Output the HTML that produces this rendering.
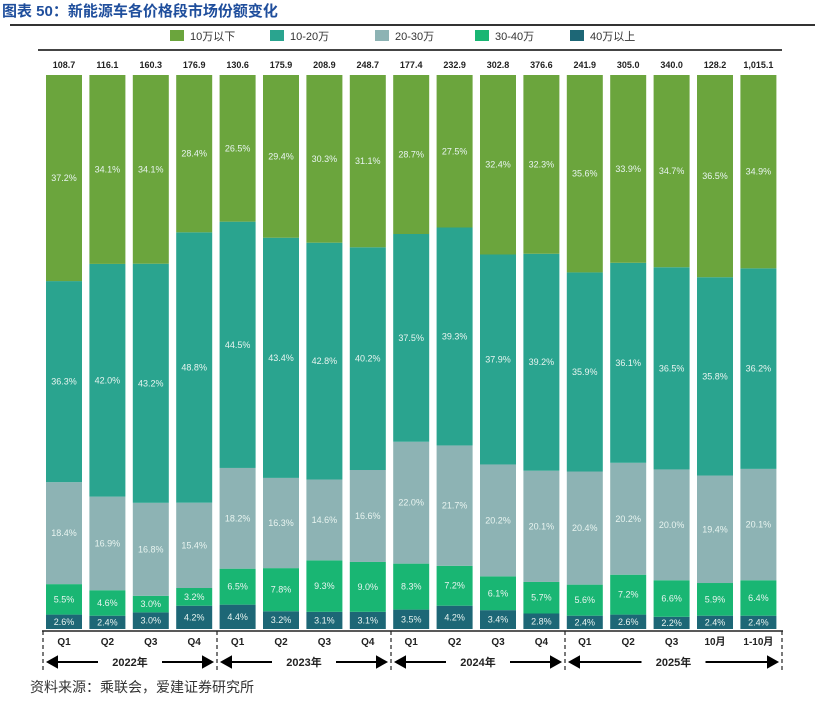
<!DOCTYPE html>
<html><head><meta charset="utf-8"><style>
body{margin:0;background:#fff;font-family:"Liberation Sans","Noto Sans CJK SC",sans-serif;}
</style></head><body>
<svg width="831" height="703" xmlns="http://www.w3.org/2000/svg" id="svg">
<text x="2" y="16" font-size="15" font-weight="bold" fill="#1f4e9c" font-family="Liberation Sans,Noto Sans CJK SC,sans-serif">图表 50：新能源车各价格段市场份额变化</text>
<line x1="10" y1="25" x2="815" y2="25" stroke="#333" stroke-width="2"/>
<line x1="38" y1="50" x2="782" y2="50" stroke="#444" stroke-width="2"/>
<text x="30" y="692" font-size="14" fill="#333" font-family="Liberation Sans,Noto Sans CJK SC,sans-serif">资料来源：乘联会，爱建证券研究所</text>
<g id="legend"></g><g id="bars"></g><g id="axis"></g>
</svg>
<script>
const categories=["Q1","Q2","Q3","Q4","Q1","Q2","Q3","Q4","Q1","Q2","Q3","Q4","Q1","Q2","Q3","10月","1-10月"];
const totals=["108.7","116.1","160.3","176.9","130.6","175.9","208.9","248.7","177.4","232.9","302.8","376.6","241.9","305.0","340.0","128.2","1,015.1"];
const seriesNames=["40万以上","30-40万","20-30万","10-20万","10万以下"];
const s40=[2.6,2.4,3.0,4.2,4.4,3.2,3.1,3.1,3.5,4.2,3.4,2.8,2.4,2.6,2.2,2.4,2.4];
const s3040=[5.5,4.6,3.0,3.2,6.5,7.8,9.3,9.0,8.3,7.2,6.1,5.7,5.6,7.2,6.6,5.9,6.4];
const s2030=[18.4,16.9,16.8,15.4,18.2,16.3,14.6,16.6,22.0,21.7,20.2,20.1,20.4,20.2,20.0,19.4,20.1];
const s1020=[36.3,42.0,43.2,48.8,44.5,43.4,42.8,40.2,37.5,39.3,37.9,39.2,35.9,36.1,36.5,35.8,36.2];
const s10=[37.2,34.1,34.1,28.4,26.5,29.4,30.3,31.1,28.7,27.5,32.4,32.3,35.6,33.9,34.7,36.5,34.9];
const years=["2022年","2023年","2024年","2025年"];
const colors=["#1d6776","#19b673","#8db3b4","#2aa48f","#6ba53d"];
const NS="http://www.w3.org/2000/svg";
function mk(t,a,p){const e=document.createElementNS(NS,t);for(const k in a)e.setAttribute(k,a[k]);p.appendChild(e);return e;}
const x0=64,dx=43.4,bw=36,yTop=75,yBot=629;
const xc=i=>x0+i*dx;
const series=[s40,s3040,s2030,s1020,s10];
const gb=document.getElementById('bars');
categories.forEach((c,i)=>{
  const sum=series.reduce((a,s)=>a+s[i],0);
  const yv=v=>(yBot-yTop)*v/sum;
  let y=yBot;
  series.forEach((s,k)=>{
    const h=yv(s[i]);y-=h;
    const r=mk('rect',{x:xc(i)-bw/2,y:y,width:bw,height:h,fill:colors[k]},gb);
    
    
    const t=mk('text',{x:xc(i),y:y+h/2+3,'font-size':9,fill:'#e8f4f0','text-anchor':'middle'},gb);
    t.textContent=s[i].toFixed(1)+'%';
    
    
  });
  const tt=mk('text',{x:xc(i),y:68,'font-size':9,'font-weight':'bold',fill:'#222','text-anchor':'middle'},gb);
  tt.textContent=totals[i];
  
  
  const q=mk('text',{x:xc(i),y:645,'font-size':10,'font-weight':'bold',fill:'#222','text-anchor':'middle'},gb);
  q.textContent=c;
  
  
});
const ga=document.getElementById('axis');
const al=mk('line',{x1:42,y1:631,x2:783,y2:631,stroke:'#222','stroke-width':1.5},ga);


const seps=[43,217,391,565,782];
seps.forEach(x=>{
  const l=mk('line',{x1:x,y1:631,x2:x,y2:672,stroke:'#222','stroke-dasharray':'4,3','stroke-width':1.2},ga);
  
  
});
years.forEach((y,k)=>{
  const a=seps[k],b=seps[k+1],m=(a+b)/2;
  const t=mk('text',{x:m,y:666,'font-size':11,'font-weight':'bold',fill:'#222','text-anchor':'middle'},ga);
  t.textContent=y;
  
  
  const l1=mk('path',{d:`M${a+5},662 L${m-32},662 M${a+5},662 l9,-5 v10 z`,stroke:'#000','stroke-width':2,fill:'#000'},ga);
  
  
  const l2=mk('path',{d:`M${m+32},662 L${b-5},662 M${b-5},662 l-9,-5 v10 z`,stroke:'#000','stroke-width':2,fill:'#000'},ga);
  
  
});
const gl=document.getElementById('legend');
const legOrder=[4,3,2,1,0];const legX=[170,270,375,475,570];
legOrder.forEach((k,j)=>{
  const r=mk('rect',{x:legX[j],y:30,width:14,height:11,fill:colors[k]},gl);
  
  
  const t=mk('text',{x:legX[j]+20,y:40,'font-size':11,fill:'#333'},gl);
  t.textContent=seriesNames[k];
  
  
});
</script>
</body></html>
